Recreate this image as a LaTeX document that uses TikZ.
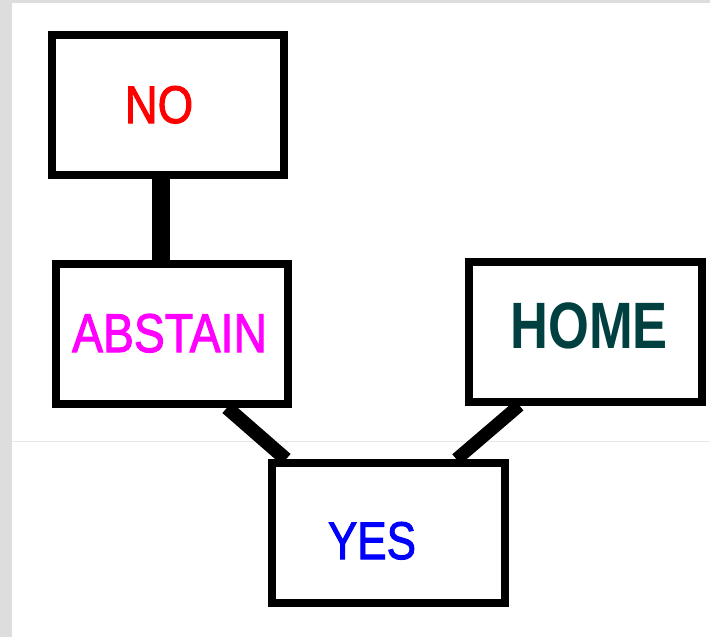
\documentclass[tikz,border=0pt]{standalone}
\usepackage{graphicx}
\usepackage{fontspec}
\setmainfont{Liberation Sans}
\newfontfamily\heavysans[FakeBold=2]{Liberation Sans}
\usetikzlibrary{backgrounds}

\definecolor{paneGray}{RGB}{221,221,221}
\definecolor{seamGray}{RGB}{232,232,232}
\definecolor{noRed}{RGB}{255,0,0}
\definecolor{abstainMagenta}{RGB}{255,0,255}
\definecolor{homeTeal}{RGB}{0,64,64}
\definecolor{yesBlue}{RGB}{0,0,255}

\begin{document}
\begin{tikzpicture}[x=1pt,y=-1pt,
    box/.style={draw=black, line width=8pt, rectangle, inner sep=0pt,
                minimum width=233pt, minimum height=140pt},
    word/.style={inner sep=0pt, anchor=base},
    link/.style={draw=black, line cap=butt}]
  \useasboundingbox (0,0) rectangle (710,637);

  % answer boxes
  \node[box, minimum width=232pt] (NO) at (168,105) {};
  \node[box, minimum width=232pt] (ABSTAIN) at (172,333.75) {};
  \node[box, minimum width=233.5pt] (HOME) at (585.25,331.5) {};
  \node[box] (YES) at (388.5,533.25) {};

  % labels
  \node[word, text=noRed] (noText) at (159,123)
    {\heavysans\fontsize{53}{60}\selectfont\scalebox{0.86}[1]{NO}};
  \node[word, text=abstainMagenta] (abstainText) at (169.5,352)
    {\heavysans\fontsize{54.5}{62}\selectfont\scalebox{0.85}[1]{ABSTAIN}};
  \node[word, text=homeTeal] (homeText) at (589,348)
    {\fontsize{65.6}{74}\selectfont\bfseries\scalebox{0.80}[1]{HOME}};
  \node[word, text=yesBlue] (yesText) at (372,559)
    {\heavysans\fontsize{53}{60}\selectfont\scalebox{0.83}[1]{YES}};

  \begin{scope}[on background layer]
    % page backdrop
    \fill[paneGray] (0,0) rectangle (710,637);
    \fill[white] (12,3) rectangle (710,637);
    \draw[seamGray, line width=1pt] (12,441) -- (710,441);
    % connectors
    \draw[link, line width=18pt] ([xshift=-7pt]NO.south) -- ([xshift=-11pt]ABSTAIN.north);
    \draw[link, line width=14pt] ([xshift=55pt]ABSTAIN.south) -- ([xshift=-102.5pt]YES.north);
    \draw[link, line width=13pt] ([xshift=-66pt]HOME.south) -- ([xshift=68pt]YES.north);
  \end{scope}
\end{tikzpicture}
\end{document}
